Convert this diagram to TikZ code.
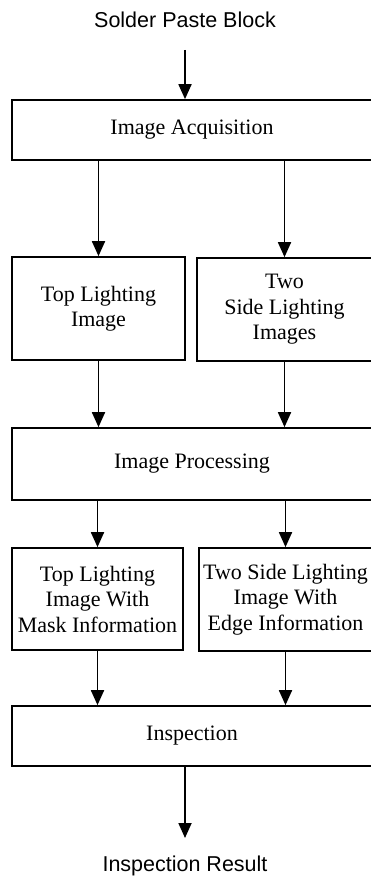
\documentclass[tikz,border=0pt]{standalone}
\usepackage{fontspec}
\setmainfont{Liberation Serif}
\newfontfamily\labelsans{Liberation Sans}
\usetikzlibrary{arrows.meta}
\tikzset{
  box/.style={draw, line width=1.7pt, rectangle, inner sep=0pt, align=center,
    font=\fontsize{22}{25.5}\selectfont},
  endtext/.style={inner sep=0pt, font=\labelsans\fontsize{21.5}{25}\selectfont},
  arr/.style={line width=1.8pt, -{Triangle[length=15pt,width=13pt]}}
}
\begin{document}
\begin{tikzpicture}[x=1pt,y=-1pt]
\useasboundingbox (0,0) rectangle (370,880);
\node[endtext] (spb) at (185,20) {Solder Paste Block};
\node[box, minimum width=360pt, minimum height=60pt] (ia) at (192,130) {Image Acquisition};
\node[box, minimum width=173pt, minimum height=103pt] (tl) at (98.5,308.5) {Top Lighting\\Image};
\node[box, minimum width=175pt, minimum height=103pt] (ts) at (284.5,309.5) {Two\\Side Lighting\\Images};
\node[box, minimum width=360pt, minimum height=72pt] (ip) at (192,464) {Image Processing};
\node[box, minimum width=171pt, minimum height=102pt] (tm) at (97.5,599) {Top Lighting\\Image With\\Mask Information};
\node[box, minimum width=173pt, minimum height=103pt] (te) at (285.5,599.5) {Two Side Lighting\\Image With\\Edge Information};
\node[box, minimum width=360pt, minimum height=60pt] (insp) at (192,736) {Inspection};
\node[endtext] (ir) at (185,866) {Inspection Result};
\coordinate (a0) at (185,50);
\coordinate (a1) at (185,838);
\draw[arr] (a0) -- (a0 |- ia.north);
\draw[arr] (ia.south -| tl.north) -- (tl.north);
\draw[arr] (ia.south -| ts.north) -- (ts.north);
\draw[arr] (tl.south) -- (tl.south |- ip.north);
\draw[arr] (ts.south) -- (ts.south |- ip.north);
\draw[arr] (ip.south -| tm.north) -- (tm.north);
\draw[arr] (ip.south -| te.north) -- (te.north);
\draw[arr] (tm.south) -- (tm.south |- insp.north);
\draw[arr] (te.south) -- (te.south |- insp.north);
\draw[arr] (a1 |- insp.south) -- (a1);
\end{tikzpicture}
\end{document}
